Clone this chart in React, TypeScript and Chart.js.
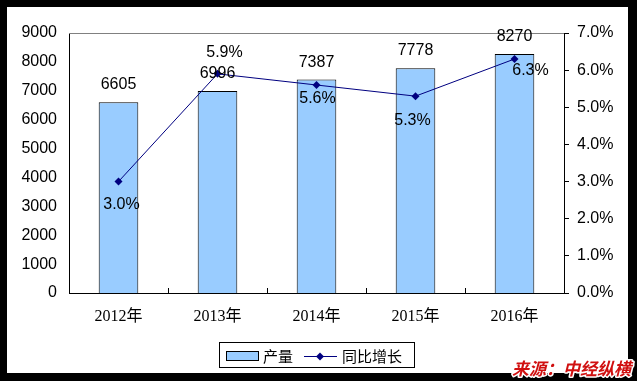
import React, { useEffect, useRef } from 'react';
import { Chart, registerables } from 'chart.js';

Chart.register(...registerables);

const categories = ['2012年', '2013年', '2014年', '2015年', '2016年'];
const production = [6605, 6996, 7387, 7778, 8270];
const growth = [3.0, 5.9, 5.6, 5.3, 6.3];
const growthLabels = ['3.0%', '5.9%', '5.6%', '5.3%', '6.3%'];
const seriesNames = ['产量', '同比增长'];
const sourceText = '来源：中经纵横';

// label placement relative to the line points (style only)
const growthLabelOffsets = [
  [3, 23],
  [7, -21],
  [1, 14],
  [-3, 24],
  [16, 12],
];

const W = 637;
const H = 381;
const NUM_FONT = '16px "Liberation Sans", Arial, sans-serif';
const CJK = '"Noto Sans CJK SC", sans-serif';

const framePlugin = {
  id: 'frame',
  beforeDraw(chart: any) {
    const ctx = chart.ctx;
    ctx.save();
    ctx.fillStyle = '#000';
    ctx.fillRect(0, 0, W, H);
    ctx.fillStyle = '#fff';
    ctx.fillRect(7, 7, 621, 366);
    ctx.restore();
  },
  beforeDatasetsDraw(chart: any) {
    const ctx = chart.ctx;
    const a = chart.chartArea;
    ctx.save();
    ctx.strokeStyle = '#808080';
    ctx.lineWidth = 1;
    ctx.beginPath();
    ctx.moveTo(a.left, a.top + 0.5);
    ctx.lineTo(a.right, a.top + 0.5);
    ctx.stroke();
    // inward category boundary ticks on x axis
    const xs = chart.scales.x;
    ctx.strokeStyle = '#000';
    ctx.beginPath();
    for (let i = 1; i < categories.length; i++) {
      const px = Math.round((xs.getPixelForTick(i - 1) + xs.getPixelForTick(i)) / 2) + 0.5;
      ctx.moveTo(px, a.bottom);
      ctx.lineTo(px, a.bottom - 5);
    }
    ctx.stroke();
    ctx.restore();
  },
  afterDatasetsDraw(chart: any) {
    const ctx = chart.ctx;
    ctx.save();
    ctx.font = NUM_FONT;
    ctx.fillStyle = '#000';
    ctx.textAlign = 'center';
    ctx.textBaseline = 'alphabetic';
    const barMeta = chart.getDatasetMeta(0);
    barMeta.data.forEach((el: any, i: number) => {
      ctx.fillText(String(production[i]), el.x, el.y - 13);
    });
    const lineMeta = chart.getDatasetMeta(1);
    ctx.textBaseline = 'middle';
    lineMeta.data.forEach((el: any, i: number) => {
      const [dx, dy] = growthLabelOffsets[i];
      ctx.fillText(growthLabels[i], el.x + dx, el.y + dy);
    });
    ctx.restore();
  },
  afterDraw(chart: any) {
    const ctx = chart.ctx;
    ctx.save();
    // legend
    const lx = 219, ly = 342, lw = 195, lh = 25;
    ctx.strokeStyle = '#000';
    ctx.lineWidth = 1;
    ctx.strokeRect(lx + 0.5, ly + 0.5, lw, lh);
    ctx.fillStyle = '#99CCFF';
    ctx.fillRect(226, 351, 32, 9);
    ctx.strokeRect(226.5, 351.5, 32, 9);
    ctx.fillStyle = '#000';
    ctx.font = '15px ' + CJK;
    ctx.textBaseline = 'middle';
    ctx.textAlign = 'left';
    ctx.fillText(seriesNames[0], 263, 356);
    ctx.strokeStyle = '#000080';
    ctx.beginPath();
    ctx.moveTo(304, 356.5);
    ctx.lineTo(337, 356.5);
    ctx.stroke();
    ctx.fillStyle = '#000080';
    ctx.beginPath();
    ctx.moveTo(320, 352.5);
    ctx.lineTo(324, 356.5);
    ctx.lineTo(320, 360.5);
    ctx.lineTo(316, 356.5);
    ctx.closePath();
    ctx.fill();
    ctx.fillStyle = '#000';
    ctx.fillText(seriesNames[1], 342, 356);
    // source
    ctx.font = 'italic bold 17px ' + CJK;
    ctx.textAlign = 'right';
    ctx.textBaseline = 'middle';
    ctx.lineWidth = 3;
    ctx.strokeStyle = '#fff';
    ctx.lineJoin = 'round';
    ctx.strokeText(sourceText, 631, 369);
    ctx.fillStyle = '#D01010';
    ctx.fillText(sourceText, 631, 369);
    ctx.restore();
  },
};

export default function App() {
  const ref = useRef<HTMLCanvasElement | null>(null);

  useEffect(() => {
    document.body.style.margin = '0';
    const canvas = ref.current;
    if (!canvas) return;
    const zeroPad = (s: any) => {
      s.paddingTop = 0;
      s.paddingBottom = 0;
      s.paddingLeft = 0;
      s.paddingRight = 0;
    };
    const chart = new Chart(canvas, {
      type: 'bar',
      data: {
        labels: categories,
        datasets: [
          {
            type: 'bar',
            label: seriesNames[0],
            data: production,
            backgroundColor: '#99CCFF',
            borderColor: '#000',
            borderWidth: 1,
            barPercentage: 0.4,
            categoryPercentage: 1,
            yAxisID: 'y',
            order: 2,
          },
          {
            type: 'line',
            label: seriesNames[1],
            data: growth,
            borderColor: '#000080',
            backgroundColor: '#000080',
            borderWidth: 1,
            pointStyle: 'rectRot',
            pointRadius: 4,
            pointBorderWidth: 0,
            tension: 0,
            yAxisID: 'y1',
            order: 1,
          } as any,
        ],
      },
      options: {
        responsive: false,
        animation: false,
        devicePixelRatio: 1,
        layout: { padding: { top: 33, left: 0, right: 0, bottom: 0 } },
        plugins: {
          legend: { display: false },
          tooltip: { enabled: false },
        },
        scales: {
          x: {
            offset: true,
            grid: { display: false, drawTicks: false },
            border: { display: true, color: '#000', width: 1 },
            ticks: {
              color: '#000',
              padding: 14,
              maxRotation: 0,
              font: { family: '"Liberation Serif", "Noto Sans CJK SC", serif', size: 16 },
            },
            afterFit: (s: any) => {
              s.height = H - 293;
              zeroPad(s);
            },
          },
          y: {
            position: 'left',
            min: 0,
            max: 9000,
            grid: { display: false, drawTicks: false },
            border: { display: true, color: '#000', width: 1 },
            ticks: {
              stepSize: 1000,
              color: '#000',
              padding: 12,
              font: { family: '"Liberation Sans", Arial, sans-serif', size: 16 },
              callback: (v: any) => String(v),
            },
            afterFit: (s: any) => {
              s.width = 69;
              zeroPad(s);
            },
          },
          y1: {
            position: 'right',
            min: 0,
            max: 7,
            grid: {
              display: true,
              drawOnChartArea: false,
              drawTicks: true,
              tickLength: 5,
              color: '#000',
            },
            border: { display: true, color: '#000', width: 1 },
            ticks: {
              stepSize: 1,
              color: '#000',
              padding: 8,
              font: { family: '"Liberation Sans", Arial, sans-serif', size: 16 },
              callback: (v: any) => Number(v).toFixed(1) + '%',
            },
            afterFit: (s: any) => {
              s.width = W - 564;
              zeroPad(s);
            },
          },
        },
      },
      plugins: [framePlugin],
    });
    return () => chart.destroy();
  }, []);

  return (
    <div style={{ width: W, height: H }}>
      <canvas ref={ref} width={W} height={H} style={{ display: 'block', width: W, height: H }} />
    </div>
  );
}
